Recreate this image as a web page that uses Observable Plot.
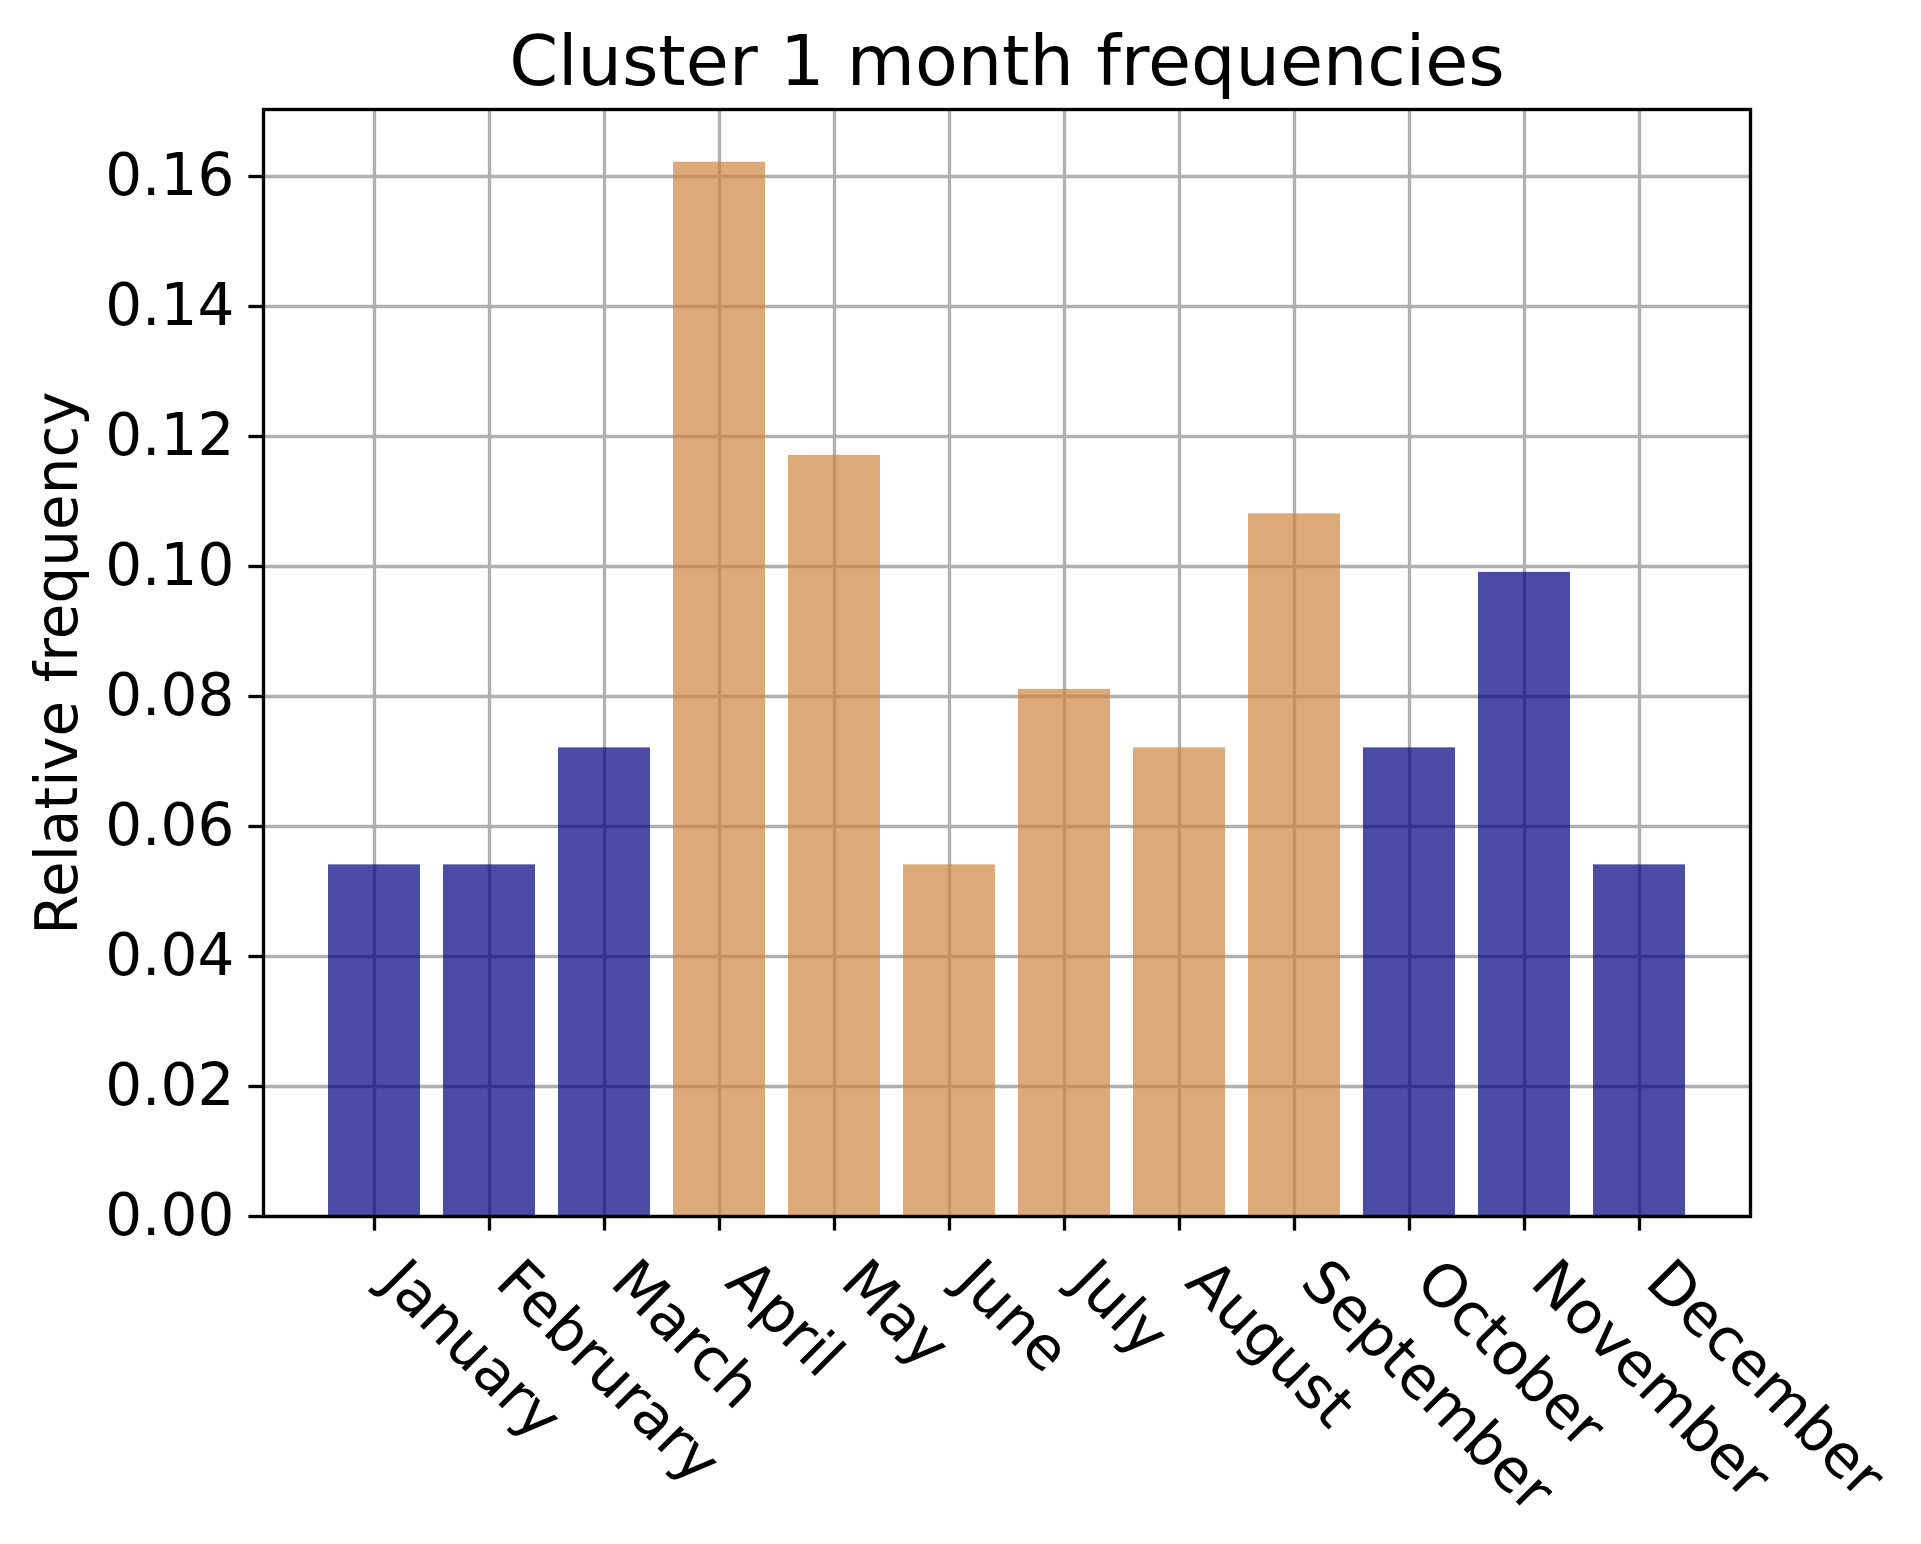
<!DOCTYPE html>
<html>
<head>
<meta charset="utf-8">
<script src="https://cdn.jsdelivr.net/npm/d3@7"></script>
<script src="https://cdn.jsdelivr.net/npm/@observablehq/plot@0.6"></script>
<style>
  html, body { margin: 0; padding: 0; background: #fff; }
  #chart svg { display: block; }
</style>
</head>
<body>
<div id="chart"></div>
<script>
const months = ["January", "Februrary", "March", "April", "May", "June", "July", "August", "September", "October", "November", "December"];
const values = [0.0541, 0.0541, 0.0721, 0.1622, 0.1171, 0.0541, 0.0811, 0.0721, 0.1081, 0.0721, 0.0991, 0.0541];
const groups = ["cold", "cold", "cold", "warm", "warm", "warm", "warm", "warm", "warm", "cold", "cold", "cold"];
const groupNames = ["cold", "warm"];
const groupColors = ["navy", "peru"];
const yTicks = [0, 0.02, 0.04, 0.06, 0.08, 0.10, 0.12, 0.14, 0.16];
const titleText = "Cluster 1 month frequencies";
const yLabel = "Relative frequency";

const data = months.map((m, i) => ({month: m, value: values[i], group: groups[i]}));
const lw = 3.33;

const chart = Plot.plot({
  width: 1921,
  height: 1544,
  marginLeft: 263,
  marginRight: 171,
  marginTop: 109,
  marginBottom: 328,
  style: {fontFamily: "'DejaVu Sans', sans-serif", fontSize: "58px", color: "black", background: "white"},
  x: {domain: months, paddingInner: 0.2, paddingOuter: 0.55, axis: null},
  y: {domain: [0, d3.max(values) * 1.05], axis: null},
  color: {domain: groupNames, range: groupColors},
  marks: [
    Plot.gridX(months, {stroke: "#b0b0b0", strokeOpacity: 1, strokeWidth: lw}),
    Plot.gridY(yTicks, {stroke: "#b0b0b0", strokeOpacity: 1, strokeWidth: lw}),
    Plot.barY(data, {x: "month", y: "value", fill: "group", fillOpacity: 0.7}),
    Plot.frame({stroke: "black", strokeWidth: lw}),
    Plot.axisY(yTicks, {
      tickSize: 14.6, tickPadding: 14.6, strokeWidth: lw, fontSize: 58,
      tickFormat: d3.format(".2f"), label: null
    }),
    Plot.axisX(months, {
      tickSize: 14.6, strokeWidth: lw, tickFormat: () => "", label: null
    }),
    Plot.text(months, {
      x: d => d, frameAnchor: "bottom", text: d => d,
      rotate: 45, textAnchor: "start", lineAnchor: "bottom",
      dx: 4, dy: 68, fontSize: 59, fill: "black"
    }),
    Plot.text([titleText], {
      frameAnchor: "top", text: d => d, textAnchor: "middle", lineAnchor: "bottom",
      dy: -25, fontSize: 70, fill: "black"
    }),
    Plot.text([yLabel], {
      frameAnchor: "left", text: d => d, rotate: -90, textAnchor: "middle", lineAnchor: "bottom",
      dx: -187, fontSize: 58, fill: "black"
    })
  ]
});
document.getElementById("chart").appendChild(chart);
</script>
</body>
</html>
